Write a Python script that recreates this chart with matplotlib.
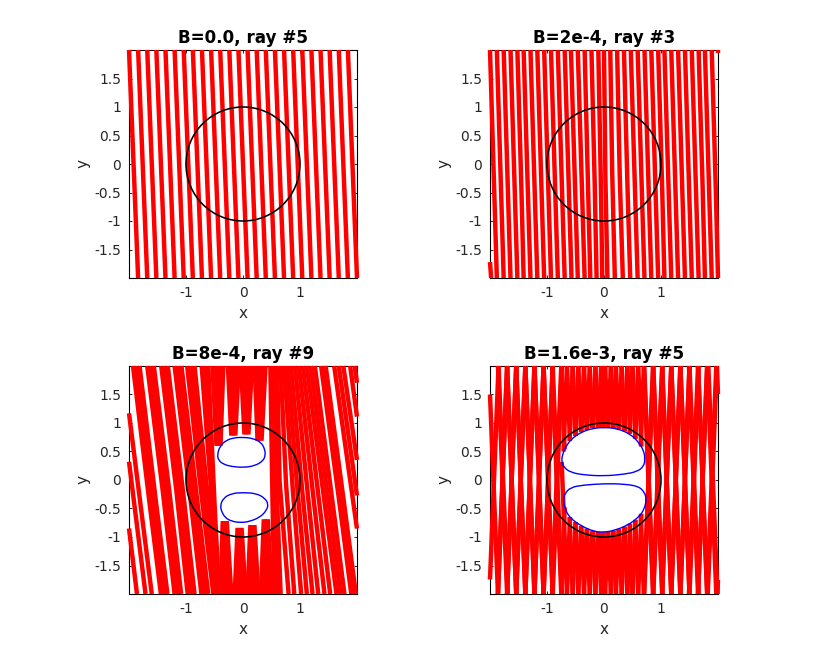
import numpy as np
import matplotlib
matplotlib.use("Agg")
import matplotlib.pyplot as plt
from matplotlib.path import Path
from matplotlib.patches import PathPatch, Circle

titles = ["B=0.0, ray #5", "B=2e-4, ray #3", "B=8e-4, ray #9", "B=1.6e-3, ray #5"]
y_ticks = [-1.5, -1, -0.5, 0, 0.5, 1, 1.5]
y_tick_labels = ["-1.5", "-1", "-0.5", "0", "0.5", "1", "1.5"]
x_ticks = [-1, 0, 1]
x_tick_labels = ["-1", "0", "1"]

# Panel 1: straight rays, crossing x at y=2 and y=-2
p1_top = [-2.0, -1.84, -1.68, -1.52, -1.36, -1.2, -1.04, -0.88, -0.72, -0.56, -0.4, -0.24, -0.08,
          0.08, 0.24, 0.4, 0.56, 0.72, 0.88, 1.04, 1.2, 1.36, 1.52, 1.68, 1.84]
p1_bot = [-1.84, -1.68, -1.52, -1.36, -1.2, -1.04, -0.88, -0.72, -0.56, -0.4, -0.24, -0.08, 0.08,
          0.24, 0.4, 0.56, 0.72, 0.88, 1.04, 1.2, 1.36, 1.52, 1.68, 1.84, 2.0]

# Panel 2: crossing x at y=2, y=0, y=-2
p2_top = [-2.0, -1.88, -1.76, -1.64, -1.52, -1.41, -1.29, -1.17, -1.05, -0.93, -0.81, -0.69, -0.58,
          -0.46, -0.34, -0.22, -0.1, 0.0, 0.11, 0.23, 0.35, 0.47, 0.59, 0.71, 0.83, 0.95, 1.06,
          1.18, 1.3, 1.42, 1.54, 1.66, 1.77, 1.89]
p2_mid = [-1.94, -1.82, -1.7, -1.58, -1.46, -1.35, -1.23, -1.11, -0.99, -0.87, -0.75, -0.63, -0.52,
          -0.4, -0.29, -0.17, -0.06, 0.02, 0.14, 0.27, 0.4, 0.53, 0.65, 0.77, 0.89, 1.01, 1.12,
          1.24, 1.36, 1.48, 1.6, 1.72, 1.83, 1.95]
p2_bot = [-1.88, -1.76, -1.64, -1.52, -1.41, -1.29, -1.17, -1.05, -0.93, -0.81, -0.69, -0.57, -0.46,
          -0.34, -0.24, -0.13, -0.03, 0.06, 0.19, 0.33, 0.46, 0.59, 0.71, 0.83, 0.95, 1.06, 1.18,
          1.3, 1.42, 1.54, 1.66, 1.77, 1.89, 2.0]
p2_left_piece_x = [-2.0, -1.98]
p2_left_piece_y = [-1.72, -2.0]
p2_right_piece_x = [2.0, 2.0]
p2_right_piece_y = [2.0, 1.94]

# Panel 3: through rays left and right of the hole
p3_left_top = [-1.93, -1.87, -1.815, -1.68, -1.62, -1.565, -1.435, -1.38, -1.32, -1.2, -1.14, -1.08,
               -0.98, -0.915, -0.85, -0.725, -0.67, -0.61]
p3_left_mid = [-1.69, -1.63, -1.575, -1.43, -1.37, -1.315, -1.19, -1.13, -1.075, -0.96, -0.9, -0.845,
               -0.76, -0.705, -0.65, -0.57, -0.54, -0.52]
p3_left_bot = [-1.44, -1.38, -1.325, -1.2, -1.14, -1.085, -0.97, -0.91, -0.85, -0.73, -0.67, -0.61,
               -0.52, -0.48, -0.44, -0.47, -0.445, -0.42]
p3_right_top = [0.48, 0.54, 0.56, 0.6, 0.66, 0.72, 0.78, 0.84, 0.91, 0.98, 1.05, 1.12, 1.19, 1.26, 1.37, 1.41, 1.45, 1.6, 1.68, 1.76, 1.88, 1.96]
p3_right_mid = [0.51, 0.565, 0.585, 0.64, 0.75, 0.86, 0.94, 1.02, 1.11, 1.2, 1.29, 1.38, 1.45, 1.52, 1.64, 1.68, 1.72, 1.88, 1.96, 2.05, 2.15, 2.23]
p3_right_bot = [0.55, 0.61, 0.66, 0.8, 0.9, 1.02, 1.12, 1.22, 1.32, 1.43, 1.53, 1.64, 1.71, 1.78, 1.9, 1.94, 1.98, 2.16, 2.25, 2.33, 2.43, 2.5]
p3_wrap_start_y = [1.17, 0.32, -0.85]
p3_wrap_end_x = [-1.6, -1.71, -1.86]
p3_top_tooth_x_top = [-0.44, -0.17, 0.06, 0.3]
p3_top_tooth_x_end = [-0.43, -0.17, 0.06, 0.29]
p3_top_tooth_y_end = [0.6, 0.78, 0.8, 0.69]
p3_bot_tooth_x_bot = [-0.3, -0.05, 0.175, 0.41]
p3_bot_tooth_x_end = [-0.32, -0.06, 0.165, 0.4]
p3_bot_tooth_y_end = [-0.72, -0.84, -0.79, -0.69]

p3_upper_x = [-0.452, -0.405, -0.288, -0.143, 0.0, 0.178, 0.323, 0.382, 0.393, 0.353, 0.207, 0.0, -0.201, -0.347, -0.428]
p3_upper_y = [0.434, 0.597, 0.702, 0.743, 0.749, 0.731, 0.656, 0.539, 0.434, 0.335, 0.248, 0.219, 0.236, 0.277, 0.347]
p3_lower_x = [-0.399, -0.347, -0.201, 0.0, 0.236, 0.382, 0.446, 0.411, 0.294, 0.119, -0.026, -0.201, -0.318, -0.376]
p3_lower_y = [-0.452, -0.318, -0.236, -0.219, -0.236, -0.318, -0.422, -0.539, -0.656, -0.726, -0.749, -0.726, -0.656, -0.551]

# Panel 4: crossing x at the top and bottom edges; both tilts leave each point
p4_top = [-1.85, -1.7, -1.54, -1.38, -1.22, -1.06, -0.9, -0.75, -0.65, -0.55, -0.45, -0.35, -0.25, -0.15, -0.05,
          0.02, 0.12, 0.21, 0.31, 0.41, 0.5, 0.6, 0.7, 0.865, 1.02, 1.18, 1.34, 1.5, 1.65, 1.81, 1.98]
p4_bot = [-1.86, -1.7, -1.54, -1.38, -1.22, -1.06, -0.9, -0.75, -0.65, -0.55, -0.45, -0.35, -0.25, -0.15, -0.05,
          0.02, 0.12, 0.21, 0.31, 0.41, 0.5, 0.6, 0.7, 0.865, 1.02, 1.18, 1.34, 1.5, 1.65, 1.81, 1.99]
p4_tilt = 0.16

p4_upper_x = [-0.75, -0.715, -0.674, -0.587, -0.412, -0.207, 0.0, 0.23, 0.464, 0.61, 0.698, 0.72, 0.698, 0.58, 0.347, 0.0, -0.353, -0.587, -0.704]
p4_upper_y = [0.339, 0.485, 0.572, 0.707, 0.835, 0.905, 0.923, 0.905, 0.806, 0.66, 0.514, 0.368, 0.239, 0.146, 0.1, 0.07, 0.088, 0.134, 0.222]
p4_lower_x = [-0.715, -0.692, -0.587, -0.353, 0.0, 0.347, 0.61, 0.71, 0.745, 0.71, 0.61, 0.406, 0.172, 0.0, -0.178, -0.412, -0.587, -0.674]
p4_lower_y = [-0.362, -0.245, -0.128, -0.088, -0.064, -0.07, -0.111, -0.216, -0.333, -0.508, -0.654, -0.8, -0.888, -0.917, -0.905, -0.8, -0.672, -0.537]

RED = "#ff0000"
BLUE = "#0000ff"
RAY_LW = 3.2
WIDTH, HEIGHT = 818, 668
LEFTS = [129, 490, 129, 490]
TOPS = [50, 50, 366, 366]
SIZE = 228
plt.rcParams["font.family"] = "DejaVu Sans"

fig = plt.figure(figsize=(WIDTH / 100, HEIGHT / 100), dpi=100)


def ray(ax, xs, ys, blocks=()):
    """Draw a ray along its nodes until it leaves the box or meets a blocking curve."""
    t = np.linspace(0, 1, 600)
    node_t = np.linspace(0, 1, len(xs))
    px = np.interp(t, node_t, xs)
    py = np.interp(t, node_t, ys)
    stop = np.abs(px) > 2.0
    for b in blocks:
        stop |= b.contains_points(np.column_stack([px, py]))
    n = int(np.argmax(stop)) if stop.any() else len(t)
    if n > 1:
        ax.plot(px[:n], py[:n], color=RED, lw=RAY_LW, solid_capstyle="butt",
                solid_joinstyle="round", clip_on=False, zorder=3)


def blob(ax, xs, ys):
    """Draw a closed smooth blue curve; return its polygon for blocking rays."""
    pts = np.column_stack([xs, ys])
    mids = 0.5 * (pts + np.roll(pts, -1, axis=0))
    verts = [mids[-1]]
    codes = [Path.MOVETO]
    for p, m in zip(pts, mids):
        verts += [p, m]
        codes += [Path.CURVE3, Path.CURVE3]
    ax.add_patch(PathPatch(Path(verts, codes), fill=False, edgecolor=BLUE, lw=1.0, zorder=5))
    return Path(np.vstack([pts, pts[:1]]))


axes = []
for i in range(4):
    ax = fig.add_axes([LEFTS[i] / WIDTH, 1 - (TOPS[i] + SIZE) / HEIGHT, SIZE / WIDTH, SIZE / HEIGHT])
    axes.append(ax)
    ax.set_xlim(-2, 2)
    ax.set_ylim(-2, 2)
    ax.set_xticks(x_ticks, x_tick_labels)
    ax.set_yticks(y_ticks, y_tick_labels)
    ax.tick_params(direction="in", top=True, right=True, length=2.2, width=0.6,
                   labelsize=10, labelcolor="#262626", pad=5.5)
    for s in ax.spines.values():
        s.set_linewidth(0.8)
        s.set_color("#000000")
    ax.set_title(titles[i], fontsize=12.1, fontweight="bold", pad=5)
    ax.set_xlabel("x", fontsize=11, color="#262626")
    ax.set_ylabel("y", fontsize=11, color="#262626")
    ax.xaxis.set_label_coords(0.5, -0.125)
    ax.yaxis.set_label_coords(-0.167, 0.5)
    ax.add_patch(Circle((0, 0), 1, fill=False, edgecolor="#000000", lw=1.15, zorder=6))

# Panel 1
for a, b in zip(p1_top, p1_bot):
    ray(axes[0], [a, b], [2, -2])

# Panel 2
for a, m, b in zip(p2_top, p2_mid, p2_bot):
    ray(axes[1], [a, m, b], [2, 0, -2])
axes[1].plot(p2_left_piece_x, p2_left_piece_y, color=RED, lw=RAY_LW, clip_on=False, zorder=3, solid_capstyle="butt")
axes[1].plot(p2_right_piece_x, p2_right_piece_y, color=RED, lw=RAY_LW, clip_on=False, zorder=3, solid_capstyle="butt")

# Panel 3
ax = axes[2]
blob(ax, p3_upper_x, p3_upper_y)
blob(ax, p3_lower_x, p3_lower_y)
for a, m, b in zip(p3_left_top, p3_left_mid, p3_left_bot):
    ray(ax, [a, m, b], [2, 0, -2])
for a, m, b in zip(p3_right_top, p3_right_mid, p3_right_bot):
    ray(ax, [a, m, b], [2, 0, -2])
for y0, x1 in zip(p3_wrap_start_y, p3_wrap_end_x):
    ray(ax, [-2.0, x1], [y0, -2])
spread = [-1, -1 / 3, 1 / 3, 1]
for c0, c1, ye in zip(p3_top_tooth_x_top, p3_top_tooth_x_end, p3_top_tooth_y_end):
    for f in spread:
        ray(ax, [c0 + f * 0.095, c1 + f * 0.035], [2, ye])
for c0, c1, ye in zip(p3_bot_tooth_x_bot, p3_bot_tooth_x_end, p3_bot_tooth_y_end):
    for f in spread:
        ray(ax, [c0 + f * 0.095, c1 + f * 0.035], [-2, ye])

# Panel 4
ax = axes[3]
blocks = [blob(ax, p4_upper_x, p4_upper_y), blob(ax, p4_lower_x, p4_lower_y)]
for x in p4_top:
    for s in (-1, 1):
        ray(ax, [x, x + s * p4_tilt], [2, -2], blocks)
for x in p4_bot:
    for s in (-1, 1):
        ray(ax, [x, x + s * p4_tilt], [-2, 2], blocks)

fig.savefig("out.png", dpi=100)
